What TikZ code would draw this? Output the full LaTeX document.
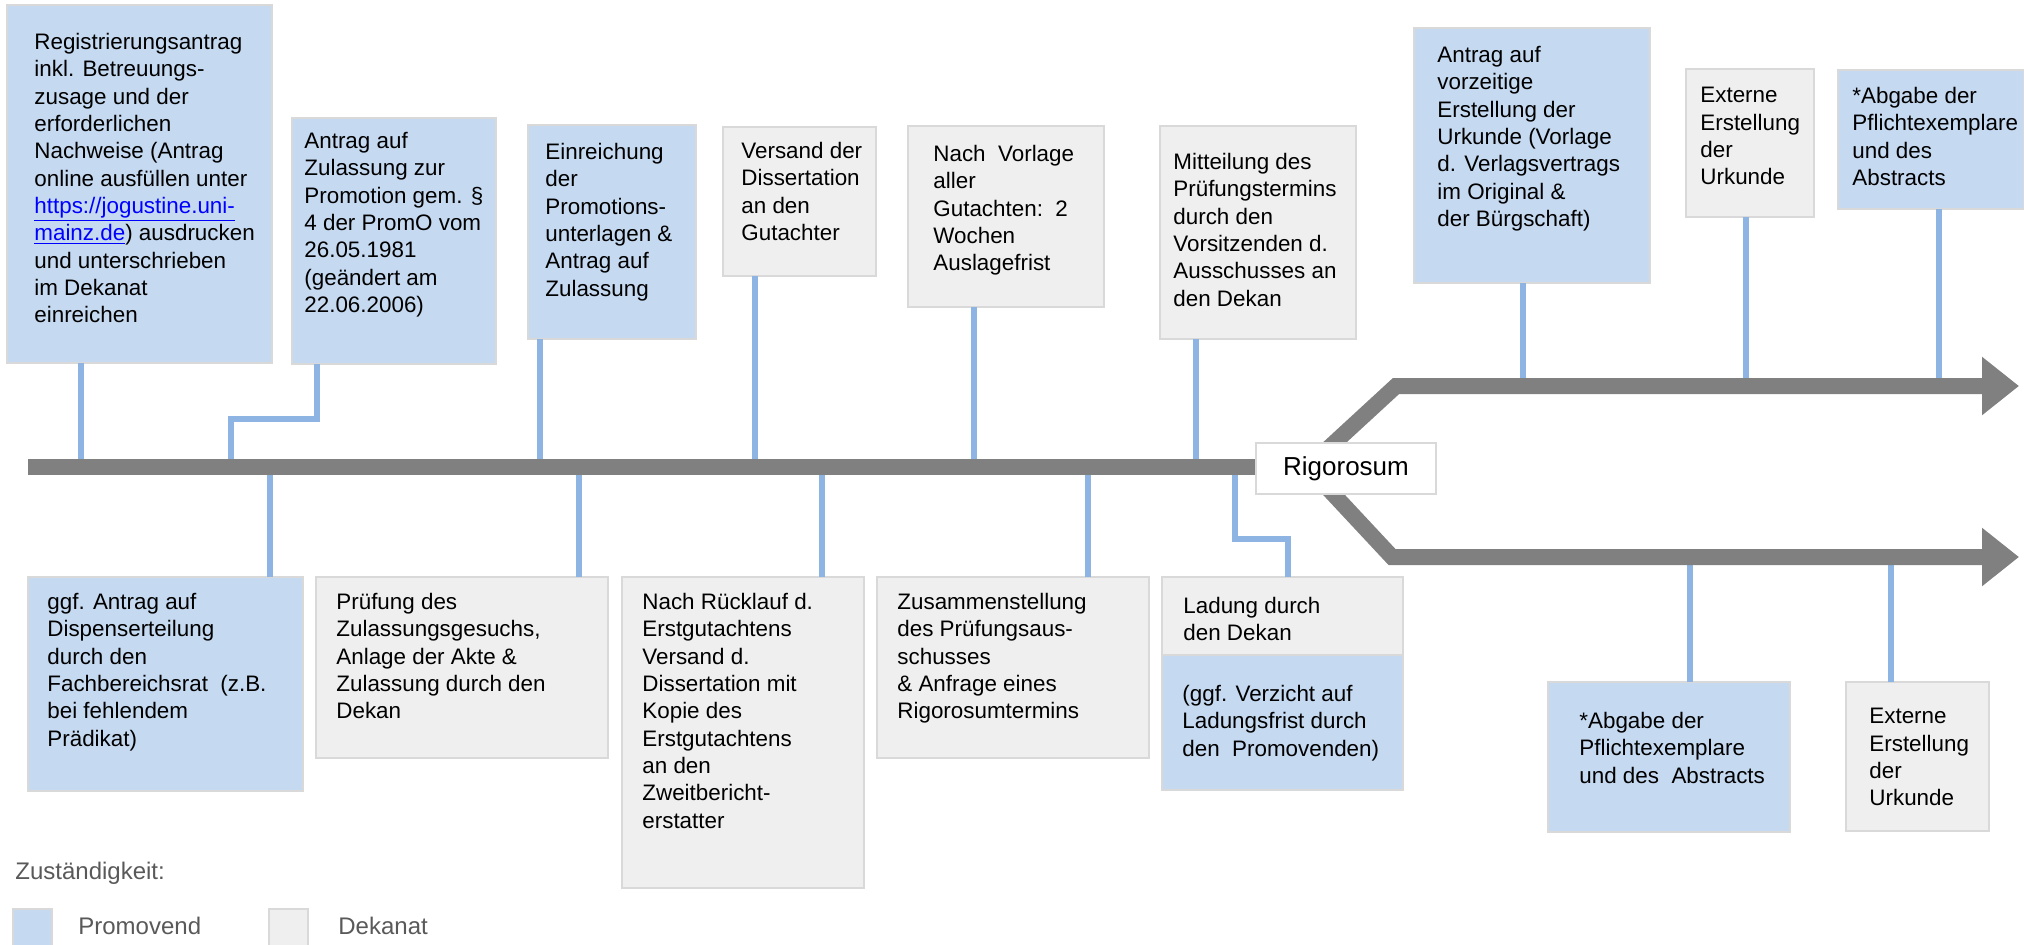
\documentclass[tikz,border=0pt]{standalone}
\usepackage{fontspec}
\setmainfont{Liberation Sans}
\usepackage{tikz}
\usetikzlibrary{arrows.meta}

\definecolor{promoblue}{RGB}{197,217,241}
\definecolor{dekgrey}{RGB}{239,239,239}
\definecolor{boxline}{RGB}{217,217,217}
\definecolor{linkblue}{RGB}{141,180,226}
\definecolor{axisgrey}{RGB}{128,128,128}
\definecolor{legendtext}{RGB}{89,89,89}
\newcommand\weblink[1]{\textcolor{blue}{\underline{#1}}}

\begin{document}
\begin{tikzpicture}[x=0.5pt, y=-0.5pt,
		box/.style={draw=boxline, line width=0.75pt, anchor=north west, inner sep=0pt, outer sep=0pt},
		promo/.style={box, fill=promoblue},
		dekanat/.style={box, fill=dekgrey},
		wh/.style 2 args={minimum width={#1*0.5pt}, minimum height={#2*0.5pt}},
		txt/.style={anchor=north west, align=left, inner sep=0pt, font=\fontsize{11.2}{13.65}\selectfont},
		link/.style={draw=linkblue, line width=2.6pt},
		axis/.style={draw=axisgrey, line width=8pt},
		branch/.style={axis, -{Triangle[length=18.5pt, width=28pt]}},
		legend/.style={anchor=north west, inner sep=0pt, text=legendtext, font=\fontsize{12}{14.5}\selectfont}]
		\useasboundingbox (0,0) rectangle (2024,944);

		\coordinate (start) at (28,467);
		\coordinate (split) at (1308,467);
		\coordinate (upbend) at (1396,386);
		\coordinate (upend) at (2019,386);
		\coordinate (lowbend) at (1392,557);
		\coordinate (lowend) at (2019,557);

		\coordinate (t1) at (81,467);
		\coordinate (t2) at (231,467);
		\coordinate (k2) at (317,419);
		\coordinate (t3) at (540,467);
		\coordinate (t4) at (755,467);
		\coordinate (t5) at (974,467);
		\coordinate (t6) at (1196,467);
		\coordinate (b1) at (270,467);
		\coordinate (b2) at (579,467);
		\coordinate (b3) at (822,467);
		\coordinate (b4) at (1088,467);
		\coordinate (b5) at (1235,467);
		\coordinate (k5) at (1288,539);
		\coordinate (u1) at (1523,386);
		\coordinate (u2) at (1746,386);
		\coordinate (u3) at (1939,386);
		\coordinate (l1) at (1690,557);
		\coordinate (l2) at (1891,557);

		\node[promo, wh={265}{358}] (reg) at (7,5) {};
		\node[promo, wh={204}{246}] (zul) at (292,118) {};
		\node[promo, wh={168}{214}] (einr) at (528,125) {};
		\node[dekanat, wh={153}{149}] (vers) at (723,127) {};
		\node[dekanat, wh={196}{181}] (vorl) at (908,126) {};
		\node[dekanat, wh={196}{213}] (mitt) at (1160,126) {};
		\node[promo, wh={236}{255}] (vorz) at (1414,28) {};
		\node[dekanat, wh={128}{148}] (ext) at (1686,69) {};
		\node[promo, wh={186}{139}] (abg) at (1838,70) {};

		\node[promo, wh={275}{214}] (disp) at (28,577) {};
		\node[dekanat, wh={292}{181}] (pruef) at (316,577) {};
		\node[dekanat, wh={242}{311}] (rueck) at (622,577) {};
		\node[dekanat, wh={272}{181}] (zus) at (877,577) {};
		\node[dekanat, wh={241}{78}] (lad) at (1162,577) {};
		\node[promo, wh={241}{135}] (ladp) at (1162,655) {};
		\node[promo, wh={242}{150}] (abgl) at (1548,682) {};
		\node[dekanat, wh={143}{149}] (extl) at (1846,682) {};

		\draw[link] (reg.south -| t1) -- (t1);
		\draw[link] (zul.south -| k2) -- (k2) -| (t2);
		\draw[link] (einr.south -| t3) -- (t3);
		\draw[link] (vers.south -| t4) -- (t4);
		\draw[link] (vorl.south -| t5) -- (t5);
		\draw[link] (mitt.south -| t6) -- (t6);
		\draw[link] (disp.north -| b1) -- (b1);
		\draw[link] (pruef.north -| b2) -- (b2);
		\draw[link] (rueck.north -| b3) -- (b3);
		\draw[link] (zus.north -| b4) -- (b4);
		\draw[link] (b5) |- (k5) -- (lad.north -| k5);
		\draw[link] (vorz.south -| u1) -- (u1);
		\draw[link] (ext.south -| u2) -- (u2);
		\draw[link] (abg.south -| u3) -- (u3);
		\draw[link] (abgl.north -| l1) -- (l1);
		\draw[link] (extl.north -| l2) -- (l2);

		\draw[axis] (start) -- (split);
		\draw[branch] (split) -- (upbend) -- (upend);
		\draw[branch] (split) -- (lowbend) -- (lowend);

		\node[box, fill=white, anchor=center, minimum width=90pt, minimum height=25.5pt, font=\fontsize{13}{15}\selectfont] (rig) at (1346,468.5) {Rigorosum};

		\node[txt] (regtxt) at (34,33) {Registrierungsantrag\\inkl. Betreuungs-\\zusage und der\\erforderlichen\\Nachweise (Antrag\\online ausfüllen unter\\\weblink{https://jogustine.uni-}\\\weblink{mainz.de}) ausdrucken\\und unterschrieben\\im Dekanat\\einreichen};
		\node[txt] (zultxt) at (304,132) {Antrag auf\\Zulassung zur\\Promotion gem. §\\4 der PromO vom\\26.05.1981\\(geändert am\\22.06.2006)};
		\node[txt] (einrtxt) at (545,143) {Einreichung\\der\\Promotions-\\unterlagen \&\\Antrag auf\\Zulassung};
		\node[txt] (verstxt) at (741,142) {Versand der\\Dissertation\\an den\\Gutachter};
		\node[txt] (vorltxt) at (933,145) {Nach\ \ Vorlage\\aller\\Gutachten:\ \ 2\\Wochen\\Auslagefrist};
		\node[txt] (mitttxt) at (1173,153) {Mitteilung des\\Prüfungstermins\\durch den\\Vorsitzenden d.\\Ausschusses an\\den Dekan};
		\node[txt] (vorztxt) at (1437,46) {Antrag auf\\vorzeitige\\Erstellung der\\Urkunde (Vorlage\\d. Verlagsvertrags\\im Original \&\\der Bürgschaft)};
		\node[txt] (exttxt) at (1700,87) {Externe\\Erstellung\\der\\Urkunde};
		\node[txt] (abgtxt) at (1852,87) {*Abgabe der\\Pflichtexemplare\\und des\\Abstracts};

		\node[txt] (disptxt) at (47,593) {ggf. Antrag auf\\Dispenserteilung\\durch den\\Fachbereichsrat\ \ (z.B.\\bei fehlendem\\Prädikat)};
		\node[txt] (prueftxt) at (336,593) {Prüfung des\\Zulassungsgesuchs,\\Anlage der Akte \&\\Zulassung durch den\\Dekan};
		\node[txt] (ruecktxt) at (642,593) {Nach Rücklauf d.\\Erstgutachtens\\Versand d.\\Dissertation mit\\Kopie des\\Erstgutachtens\\an den\\Zweitbericht-\\erstatter};
		\node[txt] (zustxt) at (897,593) {Zusammenstellung\\des Prüfungsaus-\\schusses\\\& Anfrage eines\\Rigorosumtermins};
		\node[txt] (ladtxt) at (1183,597) {Ladung durch\\den Dekan};
		\node[txt] (ladptxt) at (1182,685) {(ggf. Verzicht auf\\Ladungsfrist durch\\den\ \ Promovenden)};
		\node[txt] (abgltxt) at (1579,712) {*Abgabe der\\Pflichtexemplare\\und des\ \ Abstracts};
		\node[txt] (extltxt) at (1869,708) {Externe\\Erstellung\\der\\Urkunde};

		\node[legend] (zust) at (15,862) {Zuständigkeit:};
		\node[promo, wh={39}{42}] (keyp) at (13,909) {};
		\node[dekanat, wh={39}{42}] (keyd) at (269,909) {};
		\node[legend] (keyptxt) at (78,917) {Promovend};
		\node[legend] (keydtxt) at (338,917) {Dekanat};
	\end{tikzpicture}
\end{document}
